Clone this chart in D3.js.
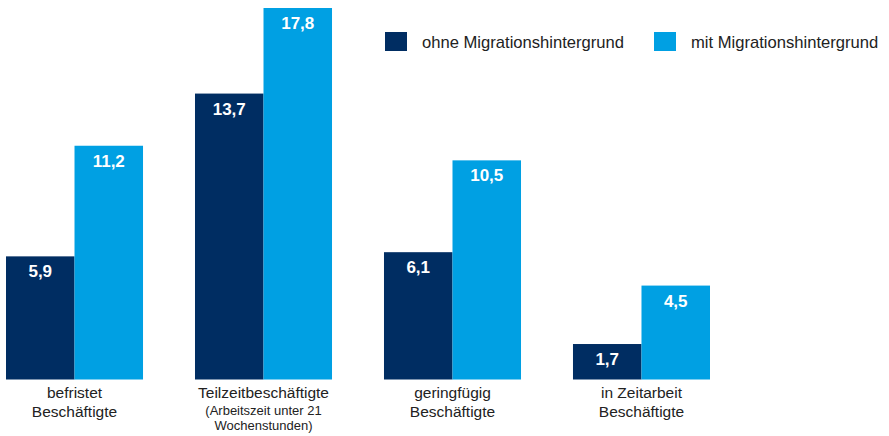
<!DOCTYPE html>
<html>
<head>
<meta charset="utf-8">
<script src="https://cdn.jsdelivr.net/npm/d3@7"></script>
<style>
  html, body { margin: 0; padding: 0; background: #fff; }
  svg { display: block; font-family: "Liberation Sans", Arial, sans-serif; }
</style>
</head>
<body>
<svg id="chart" width="889" height="436"></svg>
<script>
// Anteile in Prozent
const categories = ["befristet", "teilzeit", "geringfuegig", "zeitarbeit"];
const categoryLabels = [
  ["befristet", "Beschäftigte"],
  ["Teilzeitbeschäftigte", "(Arbeitszeit unter 21", "Wochenstunden)"],
  ["geringfügig", "Beschäftigte"],
  ["in Zeitarbeit", "Beschäftigte"]
];
const seriesNames = ["ohne Migrationshintergrund", "mit Migrationshintergrund"];
const ohneValues = [5.9, 13.7, 6.1, 1.7];
const mitValues = [11.2, 17.8, 10.5, 4.5];
const seriesColors = ["#002D62", "#00A0E3"];

const svg = d3.select("#chart");
const baseline = 379.5;

const x0 = d3.scaleBand()
  .domain(categories)
  .range([6, 710])
  .paddingInner(0.275)
  .paddingOuter(0);

const x1 = d3.scaleBand()
  .domain(seriesNames)
  .range([0, x0.bandwidth()])
  .padding(0);

const y = d3.scaleLinear()
  .domain([0, 17.8])
  .range([baseline, 8]);

const rows = categories.map((c, i) => ({
  cat: c,
  values: [
    { series: seriesNames[0], value: ohneValues[i], color: seriesColors[0] },
    { series: seriesNames[1], value: mitValues[i], color: seriesColors[1] }
  ]
}));

const fmt = v => d3.format(".1f")(v).replace(".", ",");

const groups = svg.selectAll("g.group")
  .data(rows)
  .join("g")
  .attr("class", "group")
  .attr("transform", d => `translate(${x0(d.cat)},0)`);

groups.selectAll("rect")
  .data(d => d.values)
  .join("rect")
  .attr("x", d => x1(d.series))
  .attr("y", d => y(d.value))
  .attr("width", x1.bandwidth())
  .attr("height", d => y(0) - y(d.value))
  .attr("fill", d => d.color);

groups.selectAll("text.val")
  .data(d => d.values)
  .join("text")
  .attr("class", "val")
  .attr("x", d => x1(d.series) + x1.bandwidth() / 2)
  .attr("y", d => y(d.value) + 21)
  .attr("text-anchor", "middle")
  .attr("fill", "#fff")
  .attr("font-weight", "bold")
  .attr("font-size", "17px")
  .text(d => fmt(d.value));

// Kategorienbeschriftung unter den Balken
const lineOffsets = [
  [398, 417],
  [398, 415, 430],
  [398, 417],
  [398, 417]
];
categories.forEach((c, i) => {
  const cx = x0(c) + x0.bandwidth() / 2;
  const t = svg.append("text")
    .attr("text-anchor", "middle")
    .attr("fill", "#222");
  categoryLabels[i].forEach((line, j) => {
    const sub = categoryLabels[i].length > 2 && j > 0;
    t.append("tspan")
      .attr("x", cx)
      .attr("y", lineOffsets[i][j])
      .attr("font-size", sub ? "13px" : "15.5px")
      .text(line);
  });
});

// Legende
const legendX = [385, 654];
const legend = svg.selectAll("g.legend")
  .data(seriesNames)
  .join("g")
  .attr("class", "legend")
  .attr("transform", (d, i) => `translate(${legendX[i]},32)`);

legend.append("rect")
  .attr("width", 22)
  .attr("height", 19)
  .attr("fill", (d, i) => seriesColors[i]);

legend.append("text")
  .attr("x", 37)
  .attr("y", 15.5)
  .attr("font-size", "16.6px")
  .attr("fill", "#222")
  .text(d => d);
</script>
</body>
</html>
